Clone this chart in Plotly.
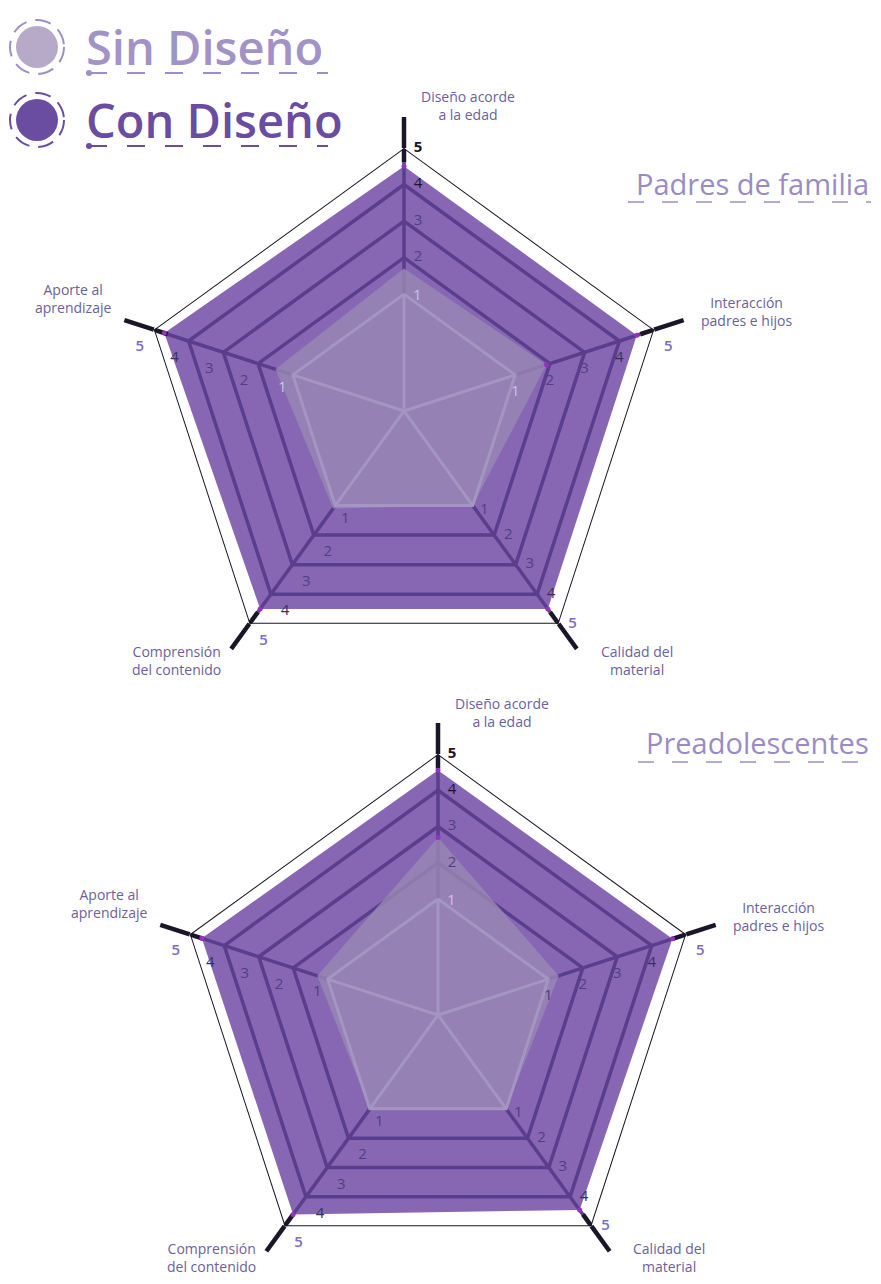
import math
import plotly.graph_objects as go

# ---- data ----
categories = ["Diseño acorde a la edad", "Interacción padres e hijos",
              "Calidad del material", "Comprensión del contenido",
              "Aporte al aprendizaje"]
axis_labels = ["Diseño acorde<br>a la edad", "Interacción<br>padres e hijos",
               "Calidad del<br>material", "Comprensión<br>del contenido",
               "Aporte al<br>aprendizaje"]

padres_sin = [1.7, 1.9, 1.0, 1.1, 1.5]
padres_con = [4.5, 4.5, 4.5, 4.5, 4.7]
pre_sin = [2.7, 1.3, 1.0, 1.0, 1.3]
pre_con = [4.55, 4.6, 4.45, 4.6, 4.65]

ticks = [1, 2, 3, 4, 5]
series_names = ["Sin Diseño", "Con Diseño"]
panel_titles = ["Padres de familia", "Preadolescentes"]

# ---- style ----
PAGE_MARGIN = 8           # default <body> margin of the html page
W, H = 881 - 2 * PAGE_MARGIN, 1284 - 2 * PAGE_MARGIN
FONT = "Open Sans"
CON_FILL = "#8767b4"
SIN_FILL = "rgba(152,136,178,0.82)"
DARK_RING = "#5a3d8c"
LIGHT_GRID = "#a495c2"
DOT = "#9a2fc4"
LABEL = "#6b5f9e"
BLACK = "#1a1628"
RMIN, RMAX = -2.2, 5

tick_pos = ["middle right", "bottom center", "middle right", "bottom right", "bottom left"]
five_pos = ["middle right", "bottom right", "middle right", "bottom right", "bottom left"]
one_offset = [(13, 0), (0, 15), (12, 2), (10, 11), (-10, 11)]
label_offset = [(64, -42), (92, -18), (78, 37), (-73, 37), (-81, -31)]
HIDDEN = dict(size=14, color="rgba(0,0,0,0)")


def closed(vals):
    return list(vals) + [vals[0]]


def px(x):
    return min(1, max(0, (x - PAGE_MARGIN) / W))


def py(y):
    return min(1, max(0, 1 - (y - PAGE_MARGIN) / H))


theta_closed = closed(categories)

fig = go.Figure()
shapes = []
annotations = []


def add_panel(polar, cx, cy, rad, sin_vals, con_vals):
    # con diseño area
    fig.add_trace(go.Scatterpolar(r=closed(con_vals), theta=theta_closed, subplot=polar,
                                  mode="lines", fill="toself", fillcolor=CON_FILL,
                                  line=dict(color=CON_FILL, width=0), hoverinfo="skip"))
    # dark rings 2-4
    for t in ticks[1:4]:
        fig.add_trace(go.Scatterpolar(r=[t] * 6, theta=theta_closed, subplot=polar,
                                      mode="lines", line=dict(color=DARK_RING, width=3.5),
                                      hoverinfo="skip"))
    # outer ring 5
    fig.add_trace(go.Scatterpolar(r=[ticks[-1]] * 6, theta=theta_closed, subplot=polar,
                                  mode="lines", line=dict(color=BLACK, width=2),
                                  cliponaxis=False, hoverinfo="skip"))
    # spokes
    for c in categories:
        fig.add_trace(go.Scatterpolar(r=[1, 4.6], theta=[c, c], subplot=polar, mode="lines",
                                      line=dict(color=DARK_RING, width=3.5), hoverinfo="skip"))
        fig.add_trace(go.Scatterpolar(r=[4.6, 5], theta=[c, c], subplot=polar, mode="lines",
                                      line=dict(color=BLACK, width=4.5), cliponaxis=False,
                                      hoverinfo="skip"))
    # sin diseño area
    fig.add_trace(go.Scatterpolar(r=closed(sin_vals), theta=theta_closed, subplot=polar,
                                  mode="lines", fill="toself", fillcolor=SIN_FILL,
                                  line=dict(color="rgba(0,0,0,0)", width=0), hoverinfo="skip"))
    # light inner grid
    fig.add_trace(go.Scatterpolar(r=[ticks[0]] * 6, theta=theta_closed, subplot=polar,
                                  mode="lines", line=dict(color=LIGHT_GRID, width=3),
                                  hoverinfo="skip"))
    for c in categories:
        fig.add_trace(go.Scatterpolar(r=[RMIN, 1], theta=[c, c], subplot=polar, mode="lines",
                                      line=dict(color=LIGHT_GRID, width=3), hoverinfo="skip"))
    # value dots
    for vals in (sin_vals, con_vals):
        fig.add_trace(go.Scatterpolar(r=vals, theta=categories, subplot=polar, mode="markers",
                                      marker=dict(color=DOT, size=5), hoverinfo="skip"))
    # tick numbers 2-5
    for i, c in enumerate(categories):
        top = i == 0
        fig.add_trace(go.Scatterpolar(
            r=ticks[1:4], theta=[c] * 3, subplot=polar, mode="markers+text", marker=HIDDEN,
            text=[str(t) for t in ticks[1:4]], textposition=tick_pos[i],
            textfont=dict(family=FONT, size=15,
                          color=["#4f3f80", "#4f3f80", BLACK if top else "#3a2f60"]),
            cliponaxis=False, hoverinfo="skip"))
        fig.add_trace(go.Scatterpolar(
            r=[ticks[-1]], theta=[c], subplot=polar, mode="markers+text", marker=HIDDEN,
            text=[str(ticks[-1])], textposition=five_pos[i],
            textfont=dict(family=FONT, size=15, color=BLACK if top else "#7b6cc6",
                          weight=700 if top else 600),
            cliponaxis=False, hoverinfo="skip"))

    # tick "1" (near the centre plotly hides unclipped text), black axis tips, axis titles
    r_one = rad * (ticks[0] - RMIN) / (RMAX - RMIN)
    for i, c in enumerate(categories):
        a = math.radians(90 - 72 * i)
        ox, oy = one_offset[i]
        annotations.append(dict(text=str(ticks[0]), xref="paper", yref="paper",
                                x=px(cx + r_one * math.cos(a) + ox),
                                y=py(cy - r_one * math.sin(a) + oy),
                                xanchor="center", yanchor="middle", showarrow=False,
                                font=dict(family=FONT, size=15,
                                          color="#cdc3e8" if sin_vals[i] > 1.4 else "#4f3f80")))
        x0, y0 = cx + rad * math.cos(a), cy - rad * math.sin(a)
        x1, y1 = cx + (rad + 31) * math.cos(a), cy - (rad + 31) * math.sin(a)
        shapes.append(dict(type="line", xref="paper", yref="paper",
                           x0=px(x0), y0=py(y0), x1=px(x1), y1=py(y1),
                           line=dict(color=BLACK, width=4.5)))
        dx, dy = label_offset[i]
        annotations.append(dict(text=axis_labels[i], xref="paper", yref="paper",
                                x=px(x0 + dx), y=py(min(y0 + dy, 1257)), xanchor="center",
                                yanchor="middle", align="center", showarrow=False,
                                font=dict(family=FONT, size=14, color=LABEL, weight=500)))


def dom(cx, cy, rad):
    return dict(x=[px(cx - rad), px(cx + rad)], y=[py(cy + rad), py(cy - rad)])


panels = [("polar", 404, 411, 263), ("polar2", 438, 1015, 261)]
add_panel(*panels[0], padres_sin, padres_con)
add_panel(*panels[1], pre_sin, pre_con)

polar_common = dict(
    bgcolor="rgba(0,0,0,0)", gridshape="linear",
    radialaxis=dict(range=[RMIN, RMAX], visible=False),
    angularaxis=dict(categoryarray=categories, categoryorder="array", rotation=90,
                     direction="clockwise", showgrid=False, showline=False,
                     showticklabels=False, ticks=""),
)

# legend
legend_items = [(47, "#b7aac9", "#9d8fc4", "#a193c6", series_names[0]),
                (120, "#6a4ca0", "#6a4ca0", "#6a4ca0", series_names[1])]
for y, fillc, linec, textc, name in legend_items:
    shapes.append(dict(type="circle", xref="paper", yref="paper",
                       x0=px(16), x1=px(58), y0=py(y + 21), y1=py(y - 21),
                       fillcolor=fillc, line=dict(width=0)))
    shapes.append(dict(type="circle", xref="paper", yref="paper",
                       x0=px(10), x1=px(64), y0=py(y + 27), y1=py(y - 27),
                       line=dict(color=linec, width=2, dash="16px,9px")))
    shapes.append(dict(type="line", xref="paper", yref="paper",
                       x0=px(89), x1=px(328), y0=py(y + 26), y1=py(y + 26),
                       line=dict(color=linec, width=2, dash="18px,20px")))
    shapes.append(dict(type="circle", xref="paper", yref="paper",
                       x0=px(86), x1=px(92), y0=py(y + 29), y1=py(y + 23),
                       fillcolor=linec, line=dict(width=0)))
    annotations.append(dict(text=name, xref="paper", yref="paper", x=px(84), y=py(y),
                            xanchor="left", yanchor="middle", showarrow=False,
                            font=dict(family=FONT, size=47, color=textc, weight=600)))

# panel titles
for (x0, x1, y), title in zip([(625, 871, 183), (635, 871, 743)], panel_titles):
    annotations.append(dict(text=title, xref="paper", yref="paper", x=px(x1), y=py(y),
                            xanchor="right", yanchor="middle", showarrow=False,
                            font=dict(family=FONT, size=29, color="#9a8cc3")))
    shapes.append(dict(type="line", xref="paper", yref="paper",
                       x0=px(x0 + 3), x1=px(x1), y0=py(y + 19), y1=py(y + 19),
                       line=dict(color="#9d8fc4", width=1.5, dash="16px,18px")))

fig.update_layout(
    width=W, height=H,
    margin=dict(l=0, r=0, t=0, b=0),
    paper_bgcolor="white", plot_bgcolor="white",
    showlegend=False,
    polar=dict(domain=dom(*panels[0][1:]), **polar_common),
    polar2=dict(domain=dom(*panels[1][1:]), **polar_common),
    shapes=shapes, annotations=annotations,
)

fig.write_html("out.html")
